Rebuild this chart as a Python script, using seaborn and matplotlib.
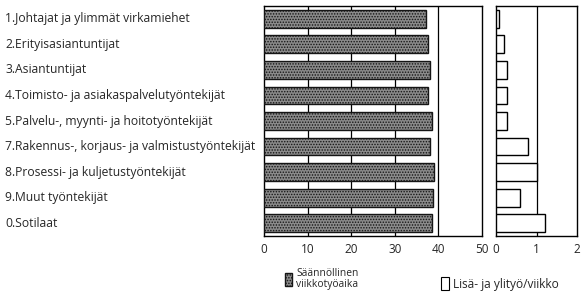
import matplotlib
matplotlib.use("Agg")
import matplotlib.pyplot as plt
import matplotlib.transforms as mtransforms
from matplotlib.patches import Patch
import seaborn as sns
import pandas as pd

# Data
categories = [
    "1.Johtajat ja ylimmät virkamiehet",
    "2.Erityisasiantuntijat",
    "3.Asiantuntijat",
    "4.Toimisto- ja asiakaspalvelutyöntekijät",
    "5.Palvelu-, myynti- ja hoitotyöntekijät",
    "7.Rakennus-, korjaus- ja valmistustyöntekijät",
    "8.Prosessi- ja kuljetustyöntekijät",
    "9.Muut työntekijät",
    "0.Sotilaat",
]
regular_hours = [37.1, 37.7, 38.0, 37.7, 38.5, 38.1, 39.0, 38.7, 38.5]
overtime_hours = [0.08, 0.2, 0.28, 0.28, 0.28, 0.8, 1.0, 0.6, 1.2]
left_ticks = [0, 10, 20, 30, 40, 50]
right_ticks = [0, 1, 2]

df = pd.DataFrame({"cat": categories, "reg": regular_hours, "ot": overtime_hours})

sns.set_style("white")
plt.rcParams["font.family"] = ["Open Sans", "DejaVu Sans"]
plt.rcParams["hatch.linewidth"] = 0.7

fill = "#8a8a8a"
fig = plt.figure(figsize=(5.84, 2.99), dpi=100)
ax1 = fig.add_axes([264 / 584, 63 / 299, 218 / 584, 230 / 299])
ax2 = fig.add_axes([496 / 584, 63 / 299, 81 / 584, 230 / 299])

sns.barplot(data=df, x="reg", y="cat", orient="h", ax=ax1, color=fill,
            width=0.7, edgecolor="black", linewidth=1.0, zorder=3)
for p in ax1.patches:
    p.set_hatch("......")
    p.set_edgecolor("#151515")

sns.barplot(data=df, x="ot", y="cat", orient="h", ax=ax2, color="white",
            width=0.7, edgecolor="black", linewidth=1.0, zorder=3)

for ax, ticks, xmax in [(ax1, left_ticks, 50), (ax2, right_ticks, 2)]:
    ax.set_xlim(0, xmax)
    ax.set_ylim(8.5, -0.5)
    ax.set_xticks(ticks)
    ax.set_xticklabels([str(t) for t in ticks], fontsize=8.5)
    ax.set_yticks([])
    ax.set_xlabel("")
    ax.set_ylabel("")
    ax.tick_params(axis="x", length=0, pad=5)
    for t in ticks[1:-1]:
        ax.axvline(t, color="black", linewidth=0.9, zorder=1)
    for s in ax.spines.values():
        s.set_color("black")
        s.set_linewidth(1.0)

# left aligned category labels
trans = mtransforms.blended_transform_factory(fig.transFigure, ax1.transData)
for i, c in enumerate(categories):
    fig.text(5 / 584, i, c, transform=trans, ha="left", va="center", fontsize=8.7)

# legend
leg1 = fig.legend(handles=[Patch(facecolor=fill, edgecolor="#151515", hatch="......")],
                  labels=["Säännöllinen\nviikkotyöaika"], loc="center left",
                  bbox_to_anchor=(285 / 584, 1 - 279 / 299), frameon=False, fontsize=7.4,
                  handlelength=0.7, handleheight=1.5, handletextpad=0.4, borderpad=0,
                  borderaxespad=0)
for t in leg1.get_texts():
    t.set_linespacing(0.95)
fig.legend(handles=[Patch(facecolor="white", edgecolor="black", linewidth=0.8)],
           labels=["Lisä- ja ylityö/viikko"], loc="center left",
           bbox_to_anchor=(441 / 584, 1 - 284 / 299), frameon=False, fontsize=8.6,
           handlelength=0.65, handleheight=1.3, handletextpad=0.35, borderpad=0,
           borderaxespad=0)

fig.savefig("out.png", dpi=100)
